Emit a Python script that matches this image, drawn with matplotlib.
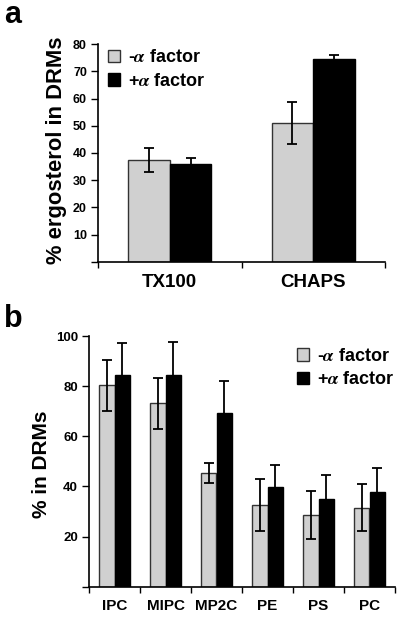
import matplotlib
matplotlib.use("Agg")
import matplotlib.pyplot as plt
from matplotlib.patches import Patch
import numpy as np

plt.rcParams['font.family'] = ['Liberation Sans', 'DejaVu Sans']
plt.rcParams['font.weight'] = 'bold'
plt.rcParams['mathtext.fontset'] = 'stix'

# panel a: ergosterol in DRMs
det_names = ["TX100", "CHAPS"]
erg_minus = [37.4, 51.0]
erg_minus_err = [4.3, 7.7]
erg_plus = [35.8, 74.5]
erg_plus_err = [2.5, 1.7]

# panel b: lipids in DRMs
lipid_names = ["IPC", "MIPC", "MP2C", "PE", "PS", "PC"]
lip_minus = [80.3, 73.1, 45.5, 32.5, 28.5, 31.6]
lip_minus_err = [10.3, 10.1, 4.0, 10.3, 9.5, 9.4]
lip_plus = [84.3, 84.4, 69.2, 39.7, 34.9, 37.9]
lip_plus_err = [13.0, 13.1, 12.8, 8.7, 9.6, 9.6]

legend_labels = ["-$\\alpha$ factor", "+$\\alpha$ factor"]

GRAY = '#d0d0d0'
EDGE_GRAY = '#333333'

fig = plt.figure(figsize=(4.0, 6.21), dpi=100)
ax_a = fig.add_axes([0.245, 0.5786, 0.7175, 0.3501])
ax_b = fig.add_axes([0.2225, 0.0552, 0.765, 0.4037])


def draw_panel(ax, names, m, me, p, pe, width):
    x = np.arange(len(names))
    ax.bar(x - width / 2, m, width, color=GRAY, edgecolor=EDGE_GRAY, linewidth=1.0)
    ax.bar(x + width / 2, p, width, color='black', edgecolor='black', linewidth=1.0)
    ekw = dict(fmt='none', ecolor='black', elinewidth=1.3, capsize=3.5, capthick=1.3)
    ax.errorbar(x - width / 2, m, yerr=me, **ekw)
    ax.errorbar(x + width / 2, p, yerr=pe, **ekw)
    ax.set_xlim(-0.5, len(names) - 0.5)
    # category boundaries carry the ticks, centres carry the labels
    ax.set_xticks(np.arange(len(names) + 1) - 0.5)
    ax.set_xticklabels([])
    ax.set_xticks(x, minor=True)
    ax.set_xticklabels(names, minor=True)
    ax.tick_params(axis='x', which='major', direction='out', length=4, width=1)
    ax.tick_params(axis='x', which='minor', length=0, pad=9)
    ax.tick_params(axis='y', direction='out', length=5, width=1, pad=3)
    for s in ['top', 'right']:
        ax.spines[s].set_visible(False)
    for s in ['left', 'bottom']:
        ax.spines[s].set_linewidth(1.2)


def add_legend(ax, anchor):
    handles = [Patch(facecolor=GRAY, edgecolor=EDGE_GRAY, linewidth=1.0),
               Patch(facecolor='black', edgecolor='black', linewidth=1.0)]
    ax.legend(handles, legend_labels, loc='upper left', bbox_to_anchor=anchor,
              frameon=False, borderpad=0, borderaxespad=0,
              handlelength=0.7, handleheight=0.7, handletextpad=0.4,
              labelspacing=0.35, prop={'weight': 'bold', 'size': 13})


# panel a
draw_panel(ax_a, det_names, erg_minus, erg_minus_err, erg_plus, erg_plus_err, 0.29)
ax_a.set_ylim(1.2, 80)
ax_a.set_yticks(np.arange(0, 81, 10))
ax_a.set_yticklabels([''] + [str(v) for v in range(10, 81, 10)])
ax_a.tick_params(axis='y', labelsize=9)
ax_a.tick_params(axis='x', which='minor', labelsize=13.5)
ax_a.set_ylabel("% ergosterol in DRMs", fontsize=15.8, fontweight='bold')
ax_a.yaxis.set_label_coords(-0.108, 0.511)
add_legend(ax_a, (0.034, 0.976))

# panel b
draw_panel(ax_b, lipid_names, lip_minus, lip_minus_err, lip_plus, lip_plus_err, 0.3)
ax_b.set_ylim(0, 100)
ax_b.set_yticks(np.arange(0, 101, 20))
ax_b.set_yticklabels([''] + [str(v) for v in range(20, 101, 20)])
ax_b.tick_params(axis='y', labelsize=9.5)
ax_b.tick_params(axis='x', which='minor', labelsize=11)
ax_b.set_ylabel("% in DRMs", fontsize=15, fontweight='bold')
ax_b.yaxis.set_label_coords(-0.124, 0.49)
add_legend(ax_b, (0.679, 0.952))

fig.text(0.01, 1 - 23 / 621, "a", fontsize=22, fontweight='bold', va='baseline')
fig.text(0.01, 1 - 327 / 621, "b", fontsize=22, fontweight='bold', va='baseline')

fig.savefig("out.png", dpi=100)
